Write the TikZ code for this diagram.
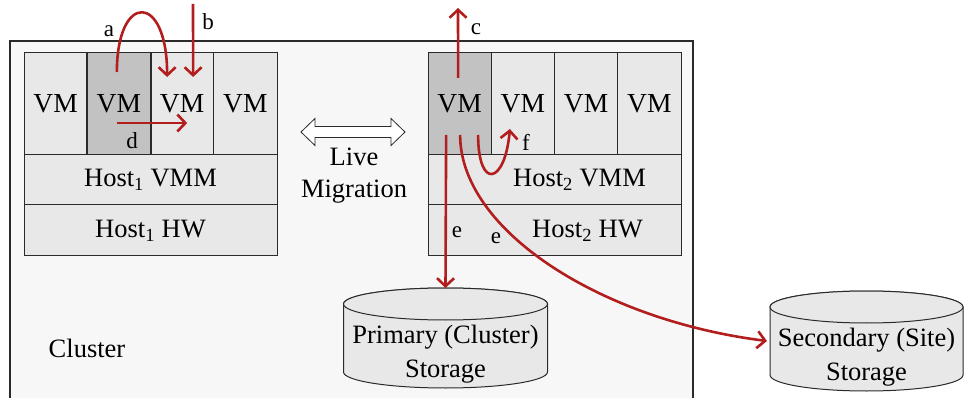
\documentclass[tikz,border=0pt]{standalone}
\usepackage{fontspec}
\setmainfont{Liberation Serif}
\usetikzlibrary{positioning, calc, arrows.meta}
\definecolor{vmlight}{HTML}{E8E8E8}
\definecolor{vmdark}{HTML}{C2C2C2}
\definecolor{clusterbg}{HTML}{F7F7F7}
\definecolor{boxline}{HTML}{2A2A2A}
\definecolor{migred}{HTML}{B21E1E}
% storage drum round a centre coordinate: #1 = coordinate, #2 = half width
\newcommand{\drawdrum}[2]{%
	\draw[drum] ($(#1)+(-#2,-50)$) -- ($(#1)+(-#2,18)$) arc[start angle=180,end angle=0,x radius=#2,y radius=16]
		-- ($(#1)+(#2,-50)$) arc[start angle=0,end angle=-180,x radius=#2,y radius=16] -- cycle;
	\draw[drum] ($(#1)+(0,-50)$) ellipse[x radius=#2,y radius=16];
}

\begin{document}
\begin{tikzpicture}[x=1pt,y=-1pt,
	every node/.style={font=\fontsize{26.5}{32}\selectfont},
	vm/.style={draw=boxline,fill=vmlight,line width=1pt,minimum width=63.25pt,minimum height=102pt,inner sep=0pt,outer sep=0pt,font=\fontsize{27.5}{32}\selectfont},
	active/.style={fill=vmdark},
	layer/.style={draw=boxline,fill=vmlight,line width=1pt,minimum width=253pt,minimum height=50pt,inner sep=0pt,outer sep=0pt},
	drum/.style={draw=boxline,fill=vmlight,line width=1pt},
	store/.style={align=center,inner sep=0pt,outer sep=0pt},
	mig/.style={draw=migred,line width=2.6pt,-{Straight Barb[length=8pt,width=17pt]}},
	lbl/.style={font=\fontsize{23}{26}\selectfont,inner sep=0pt}]
	\useasboundingbox (0,0) rectangle (964,398);
	% cluster
	\fill[clusterbg] (10,41) rectangle (693,398);
	\draw[boxline,line width=1.2pt] (10,398) -- (10,41) -- (693,41) -- (693,398);
	\node[anchor=center] (cluster) at (87,348) {Cluster};
	% host 1
	\node[vm, anchor=north west] (h1vm1) at (24,53) {VM};
	\node[vm, active, right=0pt of h1vm1] (h1vm2) {VM};
	\node[vm, right=0pt of h1vm2] (h1vm3) {VM};
	\node[vm, right=0pt of h1vm3] (h1vm4) {VM};
	\draw[boxline,line width=2pt] (h1vm2.north west) -- (h1vm2.south west) (h1vm2.north east) -- (h1vm2.south east);
	\node[layer, anchor=north west] (h1vmm) at (h1vm1.south west) {Host\textsubscript{1} VMM};
	\node[layer, below=0pt of h1vmm, minimum height=51pt] (h1hw) {Host\textsubscript{1} HW};
	% host 2
	\node[vm, active, anchor=north west] (h2vm1) at (428,53) {VM};
	\node[vm, right=0pt of h2vm1] (h2vm2) {VM};
	\node[vm, right=0pt of h2vm2] (h2vm3) {VM};
	\node[vm, right=0pt of h2vm3] (h2vm4) {VM};
	\node[layer, anchor=north west] (h2vmm) at (h2vm1.south west) {\hspace*{50pt}Host\textsubscript{2} VMM};
	\node[layer, below=0pt of h2vmm, minimum height=51pt] (h2hw) {\hspace*{66pt}Host\textsubscript{2} HW};
	% live migration
	\draw[boxline,fill=white,line width=0.8pt] (301,132) -- (315,118.5) -- (315,126.5) -- (391,126.5) -- (391,118.5)
		-- (405,132) -- (391,145.5) -- (391,137.5) -- (315,137.5) -- (315,145.5) -- cycle;
	\node[align=center] (live) at (354,176) {Live\\Migration};
	% storage
	\coordinate (primc) at (445.5,354);
	\coordinate (secc) at (866.5,357);
	\drawdrum{primc}{102}
	\drawdrum{secc}{96.5}
	\node[store, minimum width=204pt] (prim) at (primc) {Primary (Cluster)\\[2pt]Storage};
	\node[store, minimum width=193pt] (sec) at (secc) {Secondary (Site)\\[2pt]Storage};
	% free ends
	\coordinate (bsrc) at (193,4);
	\coordinate (cdst) at (458,8);
	% operations
	\draw[mig] ($(h1vm2.north)+(-2,19)$) .. controls +(0,-80) and +(0,-85) .. ($(h1vm3.north)+(-15,24)$);
	\draw[mig] (bsrc) -- ($(h1vm3.north)+(11,24)$);
	\draw[mig] ($(h1vm2.center)+(-2,19)$) -- ($(h1vm3.center)+(5,19)$);
	\draw[mig] ($(h2vm1.north)+(-1.5,25)$) -- (cdst);
	\draw[mig] ($(h2vm1.south)+(-13.5,-20)$) -- ($(prim.center)+(0,-66)$);
	\draw[mig] ($(h2vm1.south)+(0.5,-20)$) .. controls +(0,95) and +(-167,-21) .. ($(sec.west)+(-3,-16)$);
	\draw[mig] ($(h2vm1.south)+(18.5,-20)$) .. controls +(0,55) and +(-5,56) .. ($(h2vm2.south)+(-13,-26)$);
	% labels
	\node[lbl] (la) at (109,31) {a};
	\node[lbl] (lb) at (208,22) {b};
	\node[lbl] (lc) at (476,29) {c};
	\node[lbl] (ld) at (132,141) {d};
	\node[lbl] (le1) at (457,232) {e};
	\node[lbl] (le2) at (496,238) {e};
	\node[lbl] (lf) at (526,142) {f};
\end{tikzpicture}
\end{document}
